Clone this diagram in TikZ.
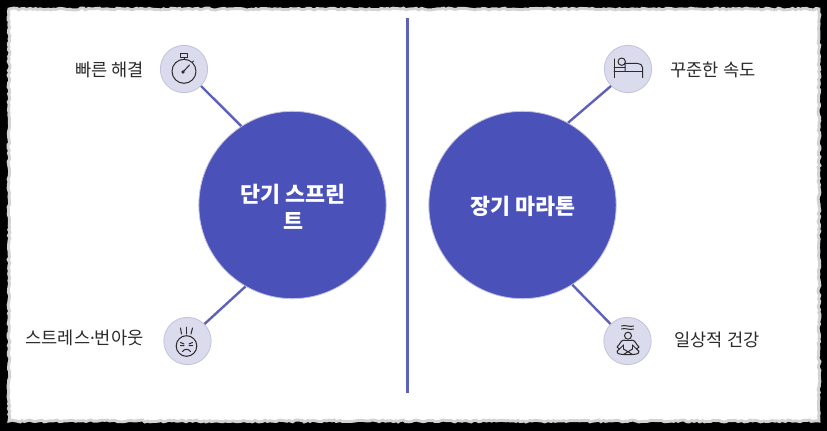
\documentclass[tikz,border=0pt]{standalone}
\usepackage{fontspec}
\setmainfont{Noto Sans CJK KR}
\newfontfamily\dotfont{Noto Sans}
\usetikzlibrary{decorations.pathmorphing}
\definecolor{hubblue}{HTML}{4A51B9}
\definecolor{iconbg}{HTML}{DBDBEE}
\definecolor{iconedge}{HTML}{C2C2DE}
\definecolor{linkblue}{HTML}{5D62B8}
\definecolor{inkgray}{HTML}{2B2B2B}
\tikzset{
  hub/.style={circle, fill=hubblue, draw=iconedge, line width=0.6pt, minimum size=140.5pt, inner sep=0pt},
  hubtext/.style={text=white, align=center, inner sep=0pt, font=\fontsize{16.3}{20.5}\selectfont\bfseries},
  badge/.style={circle, fill=iconbg, draw=iconedge, line width=0.6pt, minimum size=35.5pt, inner sep=0pt},
  tag/.style={text=inkgray, font=\fontsize{13.2}{16}\selectfont, inner sep=0pt},
  link/.style={draw=linkblue, line width=1.8pt},
  glyph/.style={draw=inkgray, line width=0.75pt, line cap=round, line join=round}
}
\begin{document}
\begin{tikzpicture}[x=0.75pt, y=-0.75pt]
    % background
    \fill [black] (0,0) rectangle (827,431);
    \useasboundingbox (0,0) rectangle (827,431);
    \draw [fill=white, draw=gray!35, line width=2.2pt,
        decorate, decoration={random steps, segment length=2pt, amplitude=0.7pt}]
        (9,9) rectangle (819,421);

    % divider
    \coordinate (divtop) at (407.5,18);
    \coordinate (divbot) at (407.5,393);
    \draw [link] (divtop) -- (divbot);

    % hubs
    \node [hub] (sprint) at (292.5,205) {};
    \node [hub] (marathon) at (522.5,205) {};
    \node [hubtext] (sprinttext) at (293,206.5) {단기 스프린\\트};
    \node [hubtext] (marathontext) at (523,206.5) {장기 마라톤};

    % badges
    \node [badge] (fast) at (184,69) {};
    \node [badge] (burnout) at (187.5,341) {};
    \node [badge] (pace) at (628,69) {};
    \node [badge] (health) at (627.5,341) {};

    % tags
    \node [tag] (fasttag) at (109.5,70) {빠른 해결};
    \node [tag] (burnouttag) at (84.5,338) {스트레스{\dotfont ·}번아웃};
    \node [tag] (pacetag) at (713,70) {꾸준한 속도};
    \node [tag] (healthtag) at (717,340) {일상적 건강};

    % links
    \draw [link] (sprint.123) -- (fast.-45);
    \draw [link] (sprint.240) -- (burnout.45);
    \draw [link] (marathon.61) -- (pace.225);
    \draw [link] (marathon.-58) -- (health.135);

    % stopwatch
    \begin{scope}[shift={(184,69)}, glyph]
        \draw (0,2.3) circle [radius=12];
        \draw (-3.7,-15) rectangle (3.3,-11);
        \draw (0,-11) -- (0,-9.7);
        \draw (8.5,-7) -- (9.5,-8);
        \draw (-1,3) -- (5.5,-4);
        \draw (-1,3) circle [radius=1.2];
    \end{scope}

    % worn-out face
    \begin{scope}[shift={(187.5,341)}, glyph]
        \draw (-1,5) circle [radius=10.3];
        \draw (-6,-7) -- (-7,-13);
        \draw (-1,-7) -- (-1,-14);
        \draw (3.5,-7) -- (5,-13);
        \draw (-7,1.5) -- (-3.5,3) (-7,4.5) -- (-3.5,4.5);
        \draw (5,1.5) -- (1.5,3) (5,4.5) -- (1.5,4.5);
        \draw (-5,10.5) .. controls (-3,7.5) and (1,7.5) .. (3,10.5);
    \end{scope}

    % bed
    \begin{scope}[shift={(628,69)}, glyph]
        \draw (-14,-10) -- (-14,8.7);
        \draw (14.7,8.7) -- (14.7,-1) .. controls (14.7,-4) and (12,-5.7) .. (9,-5.7) -- (-3,-5.7) -- (-3,2.5);
        \draw (-14,2.5) -- (14.7,2.5);
        \draw (-14,-1) -- (-3,-1);
        \draw (-6.3,-7.3) circle [radius=3.7];
    \end{scope}

    % meditation
    \begin{scope}[shift={(627.5,341)}, glyph]
        \draw (-6,-15) .. controls (-3,-16.5) and (3,-13.5) .. (6,-15);
        \draw (-6,-12) .. controls (-3,-13.5) and (3,-10.5) .. (6,-12);
        \draw (0.5,-5.3) circle [radius=3.5];
        \draw (-3,-1) .. controls (-7,-1) and (-7,3) .. (-10.5,6) -- (-8,8) -- (-4,4);
        \draw (4,-1) .. controls (8,-1) and (8,3) .. (11.5,6) -- (9,8) -- (5,4);
        \draw (-3,-1) -- (4,-1);
        \draw (-4,4) -- (-4,8) (5,4) -- (5,8);
        \draw (-8,8) .. controls (-13,11) and (-10,13.5) .. (-4,13.5) -- (5,13.5) .. controls (11,13.5) and (14,11) .. (9,8);
        \draw (-4,8) -- (5,13.5) (5,8) -- (-4,13.5);
    \end{scope}
\end{tikzpicture}
\end{document}
